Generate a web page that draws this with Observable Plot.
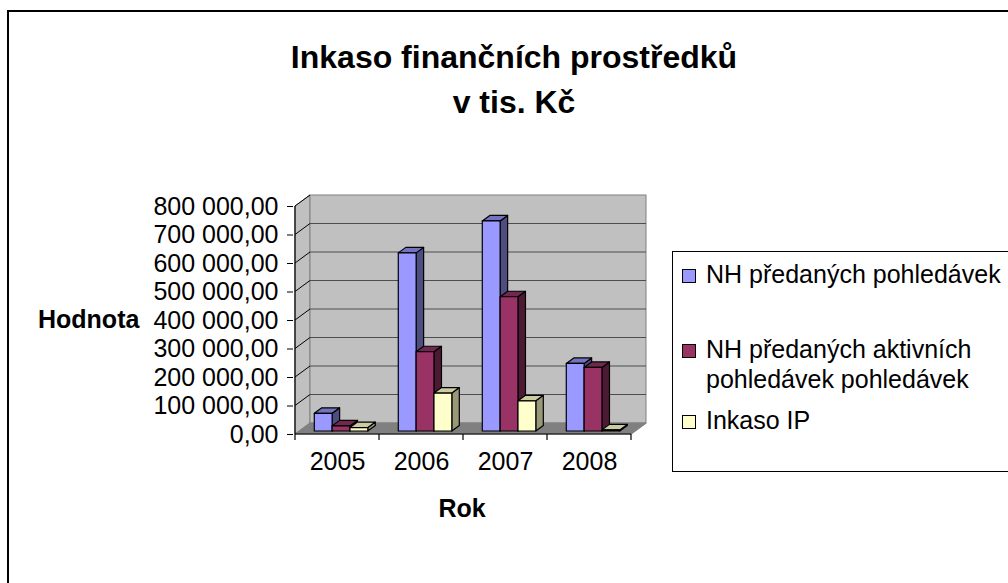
<!DOCTYPE html>
<html>
<head>
<meta charset="utf-8">
<script src="https://cdn.jsdelivr.net/npm/d3@7"></script>
<script src="https://cdn.jsdelivr.net/npm/@observablehq/plot@0.6"></script>
<style>
  html, body { margin: 0; padding: 0; background: #fff; overflow: hidden; }
  #wrap { position: relative; width: 1008px; height: 583px; overflow: hidden; font-family: Arial, "Liberation Sans", sans-serif; color: #000; }
  #frame { position: absolute; left: 7px; top: 10px; width: 1100px; height: 700px; border-left: 2px solid #000; border-top: 2px solid #000; box-sizing: border-box; z-index: 3; pointer-events: none; }
  #chart { position: absolute; left: 0; top: 0; z-index: 1; }
  .t { position: absolute; white-space: nowrap; z-index: 2; }
  #title { left: 0; width: 1028px; text-align: center; top: 35px; font-size: 32px; line-height: 45px; font-weight: bold; }
  #ylab { left: 38px; top: 304px; font-size: 25px; line-height: 30px; font-weight: bold; }
  #xlab { left: 362px; width: 200px; text-align: center; top: 493px; font-size: 25px; line-height: 30px; font-weight: bold; }
  #legend { position: absolute; left: 672px; top: 251px; width: 400px; height: 221px; border-left: 1px solid #000; border-top: 1px solid #000; border-bottom: 1px solid #000; box-sizing: border-box; z-index: 2; background: #fff; }
  .li { position: absolute; left: 33px; font-size: 25px; line-height: 30px; white-space: nowrap; }
  .sw { position: absolute; left: 9px; width: 14px; height: 14px; border: 1px solid #000; box-sizing: border-box; }
</style>
</head>
<body>
<div id="wrap">
  <div id="chart"></div>
  <div id="title" class="t"></div>
  <div id="ylab" class="t"></div>
  <div id="xlab" class="t"></div>
  <div id="legend"></div>
  <div id="frame"></div>
</div>
<script>
// ---- data ----
const chartTitle = ["Inkaso finančních prostředků", "v tis. Kč"];
const yTitle = "Hodnota";
const xTitle = "Rok";
const years = ["2005", "2006", "2007", "2008"];
const seriesNames = ["NH předaných pohledávek", "NH předaných aktivních pohledávek pohledávek", "Inkaso IP"];
const seriesNH = [62000, 625000, 737000, 237000];
const seriesNHAktivni = [18000, 278000, 471000, 223000];
const seriesInkasoIP = [12000, 133000, 106000, 4000];
const yTicks = [0, 100000, 200000, 300000, 400000, 500000, 600000, 700000, 800000];

// ---- styles ----
const frontColors = ["#9999ff", "#993366", "#ffffcc"];
const topColors = ["#7373bf", "#732650", "#cccca3"];
const sideColors = ["#4d4d80", "#4d1a33", "#99997a"];
const legendLines = [["NH předaných pohledávek"], ["NH předaných aktivních", "pohledávek pohledávek"], ["Inkaso IP"]];
const legendTops = [7, 82, 153];

const allSeries = [seriesNH, seriesNHAktivni, seriesInkasoIP];
const rows = [];
years.forEach((yr, j) => allSeries.forEach((vals, i) => rows.push({year: yr, series: seriesNames[i], si: i, value: vals[j]})));

const fmt = d => d3.format(",.2f")(d).replace(/,/g, " ").replace(".", ",");

// 3D geometry (pixel depth offsets)
const DX = 15, DY = -11;          // wall / floor depth
const BX0 = 4, BY0 = -3;          // bar front plane offset
const BDX = 7.5, BDY = -5.5;      // bar depth
const BAR = 0.2124, GROUP_OFF = 0.182;

function pickScales(args) {
  return args.find(a => a && typeof a === "object" && !Array.isArray(a) && typeof a.x === "function" && typeof a.y === "function");
}

function walls(...args) {
  const s = pickScales(args);
  const x = s.x, y = s.y;
  const bw = x(years[1]) - x(years[0]);
  const x0 = x(years[0]), x1 = x(years[years.length - 1]) + bw;
  const yb = y(0), yt = y(yTicks[yTicks.length - 1]);
  const g = d3.create("svg:g");
  const poly = pts => pts.map(p => p.join(",")).join(" ");
  g.append("polygon").attr("points", poly([[x0, yb], [x0, yt], [x0 + DX, yt + DY], [x0 + DX, yb + DY]]))
    .attr("fill", "#c0c0c0").attr("stroke", "#808080");
  g.append("rect").attr("x", x0 + DX).attr("y", yt + DY).attr("width", x1 - x0).attr("height", yb - yt)
    .attr("fill", "#c0c0c0").attr("stroke", "#808080");
  for (const t of yTicks.slice(1, -1)) {
    g.append("line").attr("x1", x0 + DX).attr("x2", x1 + DX).attr("y1", y(t) + DY).attr("y2", y(t) + DY)
      .attr("stroke", "#4d4d4d").attr("stroke-width", 1.2);
  }
  for (const t of yTicks.slice(1)) {
    g.append("line").attr("x1", x0).attr("x2", x0 + DX).attr("y1", y(t)).attr("y2", y(t) + DY)
      .attr("stroke", "#000").attr("stroke-width", 1);
  }
  g.append("polygon").attr("points", poly([[x0, yb], [x1, yb], [x1 + DX, yb + DY], [x0 + DX, yb + DY]]))
    .attr("fill", "#808080").attr("stroke", "#808080");
  return g.node();
}

function bars3d(...args) {
  const s = pickScales(args);
  const x = s.x, y = s.y;
  const bw = x(years[1]) - x(years[0]);
  const g = d3.create("svg:g").attr("stroke", "#000").attr("stroke-width", 1.2).attr("stroke-linejoin", "round");
  const poly = pts => pts.map(p => p.join(",")).join(" ");
  for (const r of rows) {
    const left = x(r.year) + bw * (GROUP_OFF + r.si * BAR) + BX0;
    const right = left + bw * BAR;
    const bot = y(0) + BY0;
    const top = y(r.value) + BY0;
    g.append("polygon").attr("points", poly([[right, bot], [right, top], [right + BDX, top + BDY], [right + BDX, bot + BDY]])).attr("fill", sideColors[r.si]);
    g.append("polygon").attr("points", poly([[left, top], [right, top], [right + BDX, top + BDY], [left + BDX, top + BDY]])).attr("fill", topColors[r.si]);
    g.append("rect").attr("x", left).attr("y", top).attr("width", right - left).attr("height", bot - top).attr("fill", frontColors[r.si]);
  }
  return g.node();
}

function frontAxes(...args) {
  const s = pickScales(args);
  const x = s.x, y = s.y;
  const bw = x(years[1]) - x(years[0]);
  const x0 = x(years[0]), x1 = x(years[years.length - 1]) + bw;
  const yb = y(0), yt = y(yTicks[yTicks.length - 1]);
  const g = d3.create("svg:g");
  g.append("line").attr("x1", x1).attr("y1", yb).attr("x2", x1 + DX).attr("y2", yb + DY).attr("stroke", "#808080").attr("stroke-width", 1.2);
  g.append("line").attr("x1", x0).attr("y1", yb).attr("x2", x1).attr("y2", yb).attr("stroke", "#000").attr("stroke-width", 1.2);
  g.append("line").attr("x1", x0).attr("y1", yb).attr("x2", x0).attr("y2", yt).attr("stroke", "#000").attr("stroke-width", 1.2);
  const bounds = years.map(yr => x(yr)).concat([x1]);
  for (const bx of bounds) {
    g.append("line").attr("x1", bx).attr("x2", bx).attr("y1", yb).attr("y2", yb + 6).attr("stroke", "#000").attr("stroke-width", 1.2);
  }
  return g.node();
}

const chart = Plot.plot({
  width: 1008,
  height: 583,
  marginLeft: 293,
  marginRight: 376,
  marginTop: 206,
  marginBottom: 149,
  style: {fontSize: "25px", fontFamily: "Arial, 'Liberation Sans', sans-serif", background: "none", color: "#000"},
  x: {type: "band", domain: years, padding: 0, tickSize: 0, tickPadding: 18, label: null},
  y: {domain: [0, yTicks[yTicks.length - 1]], ticks: yTicks, tickFormat: fmt, tickSize: 6, tickPadding: 9, label: null},
  marks: [walls, bars3d, frontAxes]
});
document.getElementById("chart").appendChild(chart);

document.getElementById("title").innerHTML = chartTitle.join("<br>");
document.getElementById("ylab").textContent = yTitle;
document.getElementById("xlab").textContent = xTitle;
const lg = document.getElementById("legend");
legendLines.forEach((lines, i) => {
  const it = document.createElement("div");
  it.className = "li";
  it.style.top = legendTops[i] + "px";
  it.innerHTML = lines.join("<br>");
  lg.appendChild(it);
  const sw = document.createElement("div");
  sw.className = "sw";
  sw.style.top = (legendTops[i] + 10) + "px";
  sw.style.background = frontColors[i];
  lg.appendChild(sw);
});
</script>
</body>
</html>
